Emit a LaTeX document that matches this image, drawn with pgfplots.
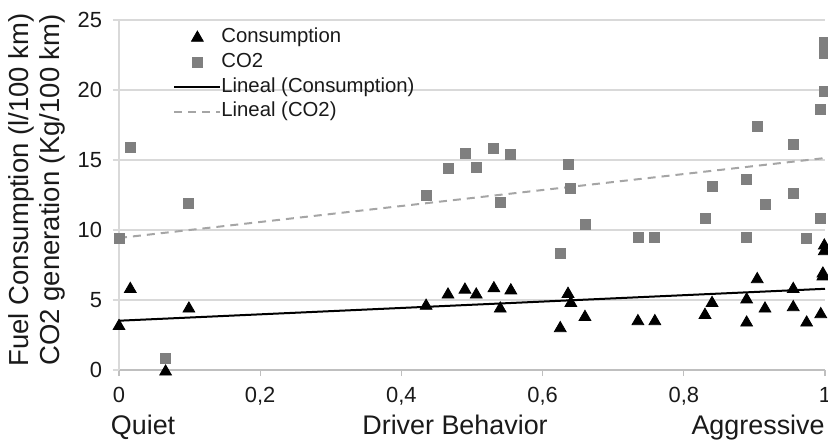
\documentclass[border=0pt]{standalone}
\usepackage{pgfplots}
\pgfplotsset{compat=1.18}
\usepackage{fontspec}
\setmainfont{Liberation Sans}
\definecolor{gridc}{HTML}{D9D9D9}
\definecolor{axc}{HTML}{BFBFBF}
\definecolor{sqc}{HTML}{7F7F7F}
\definecolor{dashc}{HTML}{A5A5A5}
\definecolor{txt}{HTML}{1A1A1A}
\begin{document}
\begin{tikzpicture}
\begin{axis}[
  name=ax,
  scale only axis,
  width=353bp, height=175bp,
  xmin=0, xmax=1, ymin=0, ymax=25,
  clip=false,
  axis lines*=left,
  /pgf/number format/assume math mode=true,
  x axis line style={color=axc, line width=0.6bp},
  y axis line style={color=gridc, line width=0.6bp},
  xtick={0,0.2,0.4,0.6,0.8,1},
  xticklabels={0,{0,2},{0,4},{0,6},{0,8},1},
  ytick={0,5,10,15,20,25},
  yticklabels={0,5,10,15,20,25},
  tick align=outside,
  x tick style={color=axc, line width=0.6bp},
  y tick style={color=gridc, line width=0.6bp},
  major tick length=3bp,
  ymajorgrids,
  grid style={color=gridc, line width=0.6bp},
  ticklabel style={font=\fontsize{11}{13}\selectfont, text=txt},
  xticklabel style={yshift=-2bp},
  yticklabel style={xshift=-2bp},
  legend image code/.code={\draw[mark repeat=2,mark phase=2,#1] plot coordinates {(0bp,0bp) (11.5bp,0bp) (23bp,0bp)};},
  legend cell align=left,
  legend style={draw=none, fill=none, at={(axis cs:0.068,24.68)}, anchor=north west,
    font=\fontsize{10.2}{11}\selectfont, text=txt,
    nodes={inner sep=0pt, text height=7bp, text depth=2bp},
    row sep=3.3bp, column sep=0pt},
  legend style={/tikz/every even column/.append style={column sep=0.5bp}},
]
\addplot[only marks, mark=triangle*, mark size=3.4bp, mark options={fill=black, draw=black}] coordinates {
(0,3.13) (0.016,5.78) (0.066,-0.12) (0.099,4.38) (0.435,4.58) (0.466,5.38) (0.49,5.73) (0.506,5.38)
(0.531,5.83) (0.54,4.38) (0.555,5.68) (0.625,2.98) (0.636,5.43) (0.64,4.78) (0.66,3.78) (0.735,3.48)
(0.759,3.48) (0.83,3.93) (0.84,4.78) (0.889,3.38) (0.889,5.03) (0.904,6.48) (0.915,4.38) (0.955,5.78)
(0.955,4.48) (0.974,3.38) (0.994,3.98) (0.997,6.88) (0.997,6.68) (0.999,8.88) (0.999,8.48)
};
\addlegendentry{Consumption}
\addplot[only marks, mark=square*, mark size=2.5bp, mark options={fill=sqc, draw=sqc}] coordinates {
(0,9.4) (0.016,15.9) (0.066,0.8) (0.099,11.9) (0.435,12.5) (0.466,14.4) (0.49,15.5) (0.506,14.5)
(0.531,15.8) (0.54,12.0) (0.555,15.4) (0.625,8.3) (0.636,14.7) (0.64,13.0) (0.66,10.4) (0.735,9.5)
(0.759,9.5) (0.83,10.8) (0.84,13.1) (0.889,9.5) (0.889,13.6) (0.904,17.4) (0.915,11.8) (0.955,16.1)
(0.955,12.6) (0.974,9.4) (0.994,10.85) (0.994,18.6) (0.999,19.9) (0.999,22.6) (0.999,23.4)
};
\addlegendentry{CO2}
\addplot[black, line width=1bp, no marks] coordinates {(0,3.52) (1,5.8)};
\addlegendentry{Lineal (Consumption)}
\addplot[dashc, line width=1bp, dash pattern=on 4bp off 3bp, no marks] coordinates {(0,9.43) (1,15.14)};
\addlegendentry{Lineal (CO2)}
\coordinate (O) at (axis cs:0,0);
\node[anchor=base west, font=\fontsize{13.5}{15}\selectfont, text=txt, inner sep=0pt] at (axis cs:-0.012,-4.64) {Quiet};
\node[anchor=base, font=\fontsize{13.5}{15}\selectfont, text=txt, inner sep=0pt] at (axis cs:0.476,-4.64) {Driver Behavior};
\node[anchor=base east, font=\fontsize{13.5}{15}\selectfont, text=txt, inner sep=0pt] at (axis cs:1.0,-4.64) {Aggressive};
\node[rotate=90, font=\fontsize{13.8}{15}\selectfont, text=txt, inner sep=0pt] at (axis cs:-0.138,12.86) {Fuel Consumption (l/100 km)};
\node[rotate=90, font=\fontsize{13.8}{15}\selectfont, text=txt, inner sep=0pt] at (axis cs:-0.094,12.86) {CO2 generation (Kg/100 km)};
\end{axis}
\pgfresetboundingbox
\path (O) ++(-59.5bp,-38.5bp) rectangle ++(414bp,223.5bp);
\end{tikzpicture}
\end{document}
